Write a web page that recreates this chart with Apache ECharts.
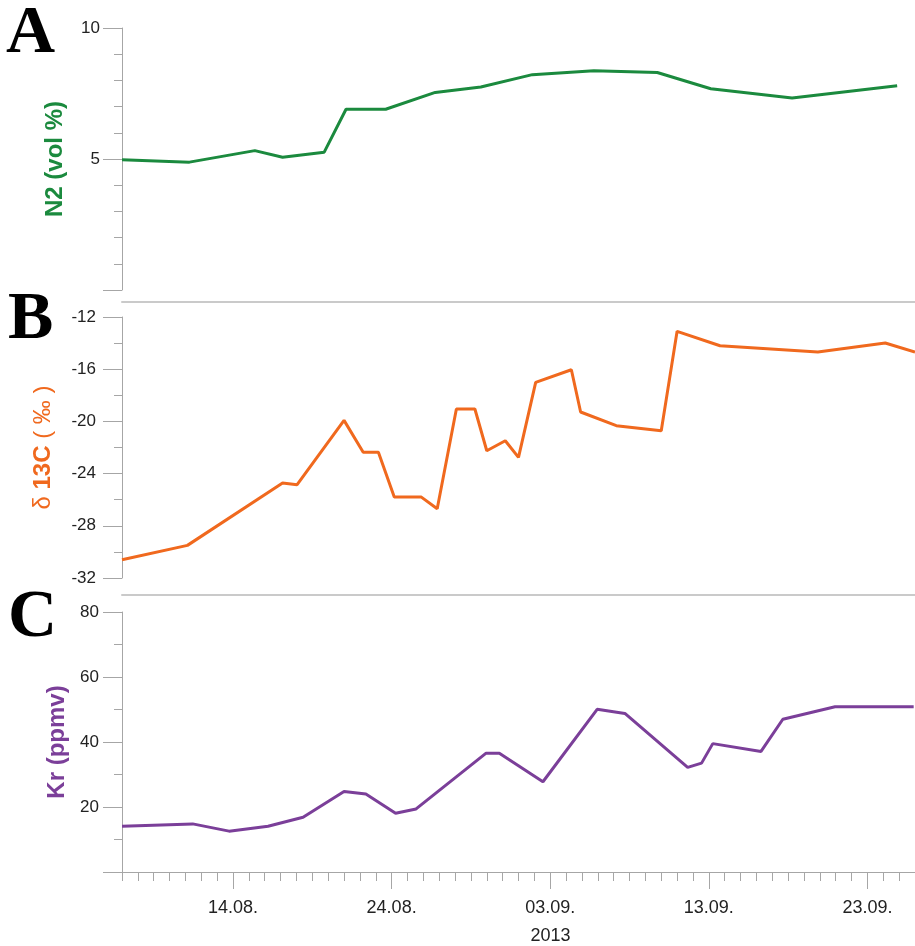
<!DOCTYPE html>
<html>
<head>
<meta charset="utf-8">
<script src="https://cdn.jsdelivr.net/npm/echarts@6/dist/echarts.min.js"></script>
<style>
html,body{margin:0;padding:0;background:#fff;}
#chart{width:915px;height:946px;}
</style>
</head>
<body>
<div id="chart"></div>
<script>
// ---------------- data ----------------
const dateMin = '2013-08-07';
const dateMax = '2013-09-26';
const majorTickDates = ['2013-08-14', '2013-08-24', '2013-09-03', '2013-09-13', '2013-09-23'];
const yearLabel = '2013';

const n2Dates = ['2013-08-07 00:00','2013-08-11 06:00','2013-08-15 09:00','2013-08-17 03:00','2013-08-19 18:00',
  '2013-08-21 03:00','2013-08-23 15:00','2013-08-26 18:00','2013-08-29 15:00','2013-09-01 21:00',
  '2013-09-05 18:00','2013-09-09 18:00','2013-09-13 03:00','2013-09-18 06:00','2013-09-24 21:00'];
const n2Values = [4.97, 4.88, 5.32, 5.07, 5.26, 6.90, 6.90, 7.54, 7.75, 8.22, 8.37, 8.30, 7.68, 7.33, 7.80];

const d13cDates = ['2013-08-07 00:00','2013-08-11 03:00','2013-08-17 03:00','2013-08-18 01:00','2013-08-21 00:00',
  '2013-08-22 05:00','2013-08-23 04:00','2013-08-24 04:00','2013-08-25 21:00','2013-08-26 21:00',
  '2013-08-28 02:00','2013-08-29 06:00','2013-08-30 00:00','2013-08-31 04:00','2013-09-01 00:00',
  '2013-09-02 02:00','2013-09-04 08:00','2013-09-04 22:00','2013-09-07 04:00','2013-09-10 00:00',
  '2013-09-11 00:00','2013-09-13 17:00','2013-09-19 21:00','2013-09-24 03:00','2013-09-26 00:00'];
const d13cValues = [-30.6, -29.5, -24.72, -24.85, -19.92, -22.37, -22.37, -25.8, -25.8, -26.69,
  -19.05, -19.05, -22.25, -21.48, -22.76, -17.01, -16.04, -19.28, -20.33, -20.71,
  -13.1, -14.2, -14.68, -13.99, -14.68];

const krDates = ['2013-08-07 00:00','2013-08-11 11:00','2013-08-13 18:00','2013-08-16 05:00','2013-08-18 10:00',
  '2013-08-21 00:00','2013-08-22 09:00','2013-08-24 06:00','2013-08-25 13:00','2013-08-29 23:00',
  '2013-08-30 19:00','2013-09-02 13:00','2013-09-05 23:00','2013-09-07 17:00','2013-09-11 16:00',
  '2013-09-12 13:00','2013-09-13 06:00','2013-09-16 07:00','2013-09-17 16:00','2013-09-20 23:00',
  '2013-09-25 22:00'];
const krValues = [14.1, 14.8, 12.57, 14.1, 16.86, 24.8, 24.0, 18.08, 19.4, 36.57,
  36.57, 27.77, 50.05, 48.8, 32.2, 33.5, 39.5, 37.1, 47.0, 50.87, 50.87];

// ---------------- helpers ----------------
function toTime(s) {
  const m = s.match(/^(\d{4})-(\d{2})-(\d{2})(?:\s+(\d{2}):(\d{2}))?$/);
  return new Date(+m[1], +m[2] - 1, +m[3], m[4] ? +m[4] : 0, m[5] ? +m[5] : 0).getTime();
}
function pad(n) { return (n < 10 ? '0' : '') + n; }
function dayLabel(d) { return pad(d.getDate()) + '.' + pad(d.getMonth() + 1) + '.'; }
function zip(xs, ys) { return xs.map((x, i) => [toTime(x), ys[i]]); }

const tMin = toTime(dateMin), tMax = toTime(dateMax);
const dayCats = [];
for (let d = new Date(tMin); d.getTime() <= tMax; d.setDate(d.getDate() + 1)) dayCats.push(dayLabel(d));
const majorSet = new Set(majorTickDates.map(s => dayLabel(new Date(toTime(s)))));
const isMajor = (idx, val) => majorSet.has(val);

const AXIS_COLOR = '#a6a6a6';
const GREEN = '#1b8a3e', ORANGE = '#f0691e', PURPLE = '#7b3f99';
const LABEL_FONT = 'Liberation Sans, Arial, sans-serif';

const gridLeft = 122;
const grids = [
  {left: gridLeft, right: 0, top: 28, height: 262},
  {left: gridLeft, right: 0, top: 317, height: 261},
  {left: gridLeft, right: 0, top: 612, height: 261}
];

function timeAxis(g) {
  return {type: 'time', gridIndex: g, position: 'bottom', min: tMin, max: tMax, show: false};
}
function sepAxis(g, off) {
  return {type: 'category', gridIndex: g, position: 'top', offset: off, data: dayCats, boundaryGap: false,
    axisLine: {show: true, lineStyle: {color: '#cacaca', width: 2}}, axisTick: {show: false},
    axisLabel: {show: false}, splitLine: {show: false}};
}
function yAxis(g, min, max, interval, minorSplit, margin, name, nameGap, nameStyle, hideZero) {
  return {
    type: 'value', gridIndex: g, min: min, max: max, interval: interval,
    axisLine: {show: true, lineStyle: {color: AXIS_COLOR, width: 1}},
    axisTick: {show: true, length: 19, lineStyle: {color: AXIS_COLOR}},
    minorTick: {show: true, splitNumber: minorSplit, length: 8, lineStyle: {color: AXIS_COLOR}},
    splitLine: {show: false}, minorSplitLine: {show: false},
    axisLabel: {margin: margin, fontSize: 17, color: '#222', fontFamily: LABEL_FONT,
      formatter: v => (hideZero && v === 0) ? '' : String(v)},
    name: name, nameLocation: 'middle', nameRotate: 90, nameGap: nameGap,
    nameTextStyle: nameStyle
  };
}

const letterStyle = {fontFamily: 'Liberation Serif, Times New Roman, serif', fontWeight: 'bold', fontSize: 68, color: '#000'};

const option = {
  animation: false,
  backgroundColor: '#fff',
  title: [
    {text: 'A', left: 6, top: 0, padding: 0, textStyle: letterStyle},
    {text: 'B', left: 8, top: 286, padding: 0, textStyle: letterStyle},
    {text: 'C', left: 8, top: 584, padding: 0, textStyle: letterStyle}
  ],
  grid: grids,
  xAxis: [
    timeAxis(0), timeAxis(1), timeAxis(2),
    {type: 'category', gridIndex: 2, position: 'bottom', data: dayCats, boundaryGap: false,
      axisLine: {show: true, lineStyle: {color: AXIS_COLOR, width: 1}},
      axisTick: {show: true, interval: 0, length: 9, lineStyle: {color: AXIS_COLOR}},
      axisLabel: {show: false}, splitLine: {show: false}},
    {type: 'category', gridIndex: 2, position: 'bottom', data: dayCats, boundaryGap: false,
      axisLine: {show: false},
      axisTick: {show: true, interval: isMajor, length: 17, lineStyle: {color: AXIS_COLOR}},
      axisLabel: {show: true, interval: isMajor, margin: 27, fontSize: 18, color: '#222', fontFamily: LABEL_FONT},
      splitLine: {show: false},
      name: yearLabel, nameLocation: 'middle', nameGap: 55,
      nameTextStyle: {fontSize: 18, color: '#222', fontFamily: LABEL_FONT, padding: [0, 0, 0, 64]}},
    sepAxis(1, 15), sepAxis(2, 17)
  ],
  yAxis: [
    yAxis(0, 0, 10, 5, 5, 22, 'N2 (vol %)', 55,
      {fontSize: 24, fontWeight: 'bold', color: GREEN, fontFamily: LABEL_FONT}, true),
    yAxis(1, -32, -12, 4, 2, 26, '{d|δ }{b|13C}{p| ( ‰ )}', 67,
      {color: ORANGE, fontFamily: LABEL_FONT, rich: {
        d: {fontSize: 24, color: ORANGE, fontFamily: LABEL_FONT},
        b: {fontSize: 24, fontWeight: 'bold', color: ORANGE, fontFamily: LABEL_FONT},
        p: {fontSize: 24, color: ORANGE, fontFamily: LABEL_FONT}
      }}, false),
    yAxis(2, 0, 80, 20, 2, 23, 'Kr (ppmv)', 50,
      {fontSize: 24, fontWeight: 'bold', color: PURPLE, fontFamily: LABEL_FONT}, true)
  ],
  series: [
    {type: 'line', xAxisIndex: 0, yAxisIndex: 0, data: zip(n2Dates, n2Values), symbol: 'none',
      lineStyle: {color: GREEN, width: 3}, itemStyle: {color: GREEN}, z: 5},
    {type: 'line', xAxisIndex: 1, yAxisIndex: 1, data: zip(d13cDates, d13cValues), symbol: 'none',
      lineStyle: {color: ORANGE, width: 3}, itemStyle: {color: ORANGE}, z: 5},
    {type: 'line', xAxisIndex: 2, yAxisIndex: 2, data: zip(krDates, krValues), symbol: 'none',
      lineStyle: {color: PURPLE, width: 3}, itemStyle: {color: PURPLE}, z: 5}
  ]
};

const chart = echarts.init(document.getElementById('chart'), null, {renderer: 'canvas'});
chart.setOption(option);
</script>
</body>
</html>
